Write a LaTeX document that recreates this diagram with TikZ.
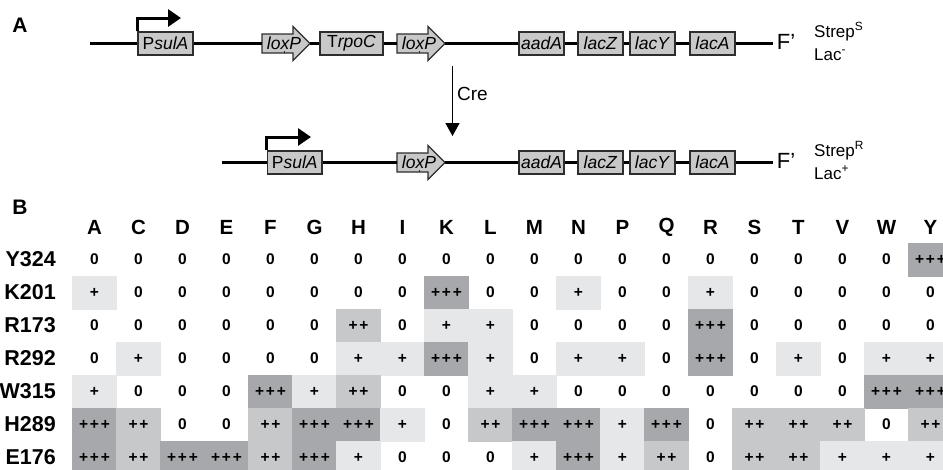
\documentclass[tikz,border=0pt]{standalone}
\usepackage{fontspec}
\setmainfont{Liberation Sans}
\usetikzlibrary{arrows.meta}
\definecolor{boxgray}{RGB}{200,200,200}
\definecolor{boxline}{RGB}{45,45,45}
\definecolor{sh0}{RGB}{255,255,255}
\definecolor{sh1}{RGB}{230,231,232}
\definecolor{sh2}{RGB}{199,200,202}
\definecolor{sh3}{RGB}{167,168,171}
\newcommand\loxparrow[3]{% name, x left, y
  \draw[genebord] (#2,#3-9.5) -- (#2+31,#3-9.5) -- (#2+31,#3-17) -- (#2+48,#3)
     -- (#2+31,#3+17) -- (#2+31,#3+9.5) -- (#2,#3+9.5) -- cycle;
  \node[genetxt] (#1) at (#2+22,#3) {\textit{loxP}};
  \coordinate (#1w) at (#2,#3);
  \coordinate (#1e) at (#2+48,#3);
  \draw[tick] (#2+22,#3+9.5) -- ++(0,-2);}
\newcommand\pk{\kern1.8pt}
\newcommand\plusval[1]{\ifcase#1\relax 0\or +\or +\pk+\or +\pk+\pk+\fi}
\begin{document}
\begin{tikzpicture}[x=1pt,y=-1pt,
  genebord/.style={draw=boxline,line width=1.2pt,fill=boxgray},
  gene/.style={genebord,minimum height=23pt,inner sep=0pt,font=\fontsize{17.5}{17.5}\selectfont},
  genetxt/.style={inner sep=0pt,font=\fontsize{17.5}{17.5}\selectfont},
  tick/.style={line width=0.8pt,draw=boxline},
  dna/.style={line width=3pt},
  prom/.style={line width=3pt,-{Triangle[length=13pt,width=17pt]}},
  panel/.style={font=\bfseries\fontsize{21}{21}\selectfont,inner sep=0pt},
  fplas/.style={font=\fontsize{22}{22}\selectfont,inner sep=0pt},
  pheno/.style={font=\fontsize{17}{17}\selectfont,inner sep=0pt,anchor=base west},
  hdr/.style={font=\bfseries\fontsize{20.5}{20.5}\selectfont,inner sep=0pt},
  rowlbl/.style={font=\bfseries\fontsize{21.5}{21.5}\selectfont,inner sep=0pt,anchor=east},
  cell/.style={minimum width=44pt,minimum height=33pt,inner sep=0pt,line width=0.4pt,
     font=\bfseries\fontsize{15.5}{15.5}\selectfont},
  cell0/.style={},
  cell1/.style={fill=sh1,draw=sh1},
  cell2/.style={fill=sh2,draw=sh2},
  cell3/.style={fill=sh3,draw=sh3}]
\useasboundingbox (0,0) rectangle (943,469);
\clip (0,0) rectangle (943,469);
% ---------- panel A ----------
\node[panel] (labA) at (20,25) {A};
% top construct
\coordinate (t0) at (90,43.5);
\coordinate (t9) at (773,43.5);
\node[gene,minimum width=55pt] (tpsul) at (165.5,43.5) {P\textit{sulA}};
\node[gene,minimum width=63pt] (ttrpo) at (351.5,43.5) {T\textit{rpoC}};
\node[gene,minimum width=45pt] (taad) at (541.5,43.5) {\textit{aadA}};
\node[gene,minimum width=45pt] (tlz) at (600.5,43.5) {\textit{lacZ}};
\node[gene,minimum width=45pt] (tly) at (652.5,43.5) {\textit{lacY}};
\node[gene,minimum width=45pt] (tla) at (712.5,43.5) {\textit{lacA}};
\loxparrow{tlox1}{262}{43.5}
\loxparrow{tlox2}{397}{43.5}
\draw[dna] (t0) -- (tpsul.west) (tpsul.east) -- (tlox1w) (tlox1e) -- (ttrpo.west)
  (ttrpo.east) -- (tlox2w) (tlox2e) -- (taad.west) (taad.east) -- (tlz.west)
  (tlz.east) -- (tly.west) (tly.east) -- (tla.west) (tla.east) -- (t9);
\foreach \n in {tpsul,ttrpo,taad,tlz,tly,tla} \draw[tick] (\n.south) -- ++(0,-2);
\draw[prom] (tpsul.north west) |- (181,18);
\node[fplas] (tF) at (786,42) {F{\char"27}};
\node[pheno] (tstrep) at (814,37) {Strep\textsuperscript{S}};
\node[pheno] (tlac) at (814,60) {Lac\textsuperscript{-}};
% Cre arrow
\coordinate (cre0) at (452.5,66);
\coordinate (cre1) at (452.5,136);
\draw[line width=1.6pt,-{Triangle[length=13pt,width=14pt]}] (cre0) -- (cre1);
\node[anchor=west,inner sep=0pt,font=\fontsize{19}{19}\selectfont] (cre) at (457,94) {Cre};
% bottom construct
\coordinate (b0) at (222,162.5);
\coordinate (b9) at (773,162.5);
\node[gene,minimum width=54.5pt] (bpsul) at (294.75,162.5) {P\textit{sulA}};
\node[gene,minimum width=45pt] (baad) at (541.5,162.5) {\textit{aadA}};
\node[gene,minimum width=45pt] (blz) at (600.5,162.5) {\textit{lacZ}};
\node[gene,minimum width=45pt] (bly) at (652.5,162.5) {\textit{lacY}};
\node[gene,minimum width=45pt] (bla) at (712.5,162.5) {\textit{lacA}};
\loxparrow{blox}{397}{162.5}
\draw[dna] (b0) -- (bpsul.west) (bpsul.east) -- (bloxw) (bloxe) -- (baad.west)
  (baad.east) -- (blz.west) (blz.east) -- (bly.west) (bly.east) -- (bla.west) (bla.east) -- (b9);
\foreach \n in {bpsul,baad,blz,bly,bla} \draw[tick] (\n.south) -- ++(0,-2);
\draw[prom] (bpsul.north west) |- (311,137);
\node[fplas] (bF) at (786,161) {F{\char"27}};
\node[pheno] (bstrep) at (814,156) {Strep\textsuperscript{R}};
\node[pheno] (blac) at (814,179) {Lac\textsuperscript{+}};
% ---------- panel B ----------
\node[panel] (labB) at (20,207) {B};
\foreach \c [count=\i from 0] in {A,C,D,E,F,G,H,I,K,L,M,N,P,Q,R,S,T,V,W,Y}
  \node[hdr] (h\c) at (94.5+44*\i,227) {\c};
\foreach \r/\vals [count=\j from 0] in {
  Y324/{0,0,0,0,0,0,0,0,0,0,0,0,0,0,0,0,0,0,0,3},
  K201/{1,0,0,0,0,0,0,0,3,0,0,1,0,0,1,0,0,0,0,0},
  R173/{0,0,0,0,0,0,2,0,1,1,0,0,0,0,3,0,0,0,0,0},
  R292/{0,1,0,0,0,0,1,1,3,1,0,1,1,0,3,0,1,0,1,1},
  W315/{1,0,0,0,3,1,2,0,0,1,1,0,0,0,0,0,0,0,3,3},
  H289/{3,2,0,0,2,3,3,1,0,2,3,3,1,3,0,2,2,2,0,2},
  E176/{3,2,3,3,2,3,1,0,0,0,1,3,1,2,0,2,2,1,1,1}} {
  \node[rowlbl] (r\r) at (56,259.5+33*\j) {\r};
  \foreach \v [count=\i from 0] in \vals
    \node[cell,cell\v] (c-\j-\i) at (94.5+44*\i,259.5+33*\j) {\plusval{\v}};
}
\end{tikzpicture}
\end{document}
